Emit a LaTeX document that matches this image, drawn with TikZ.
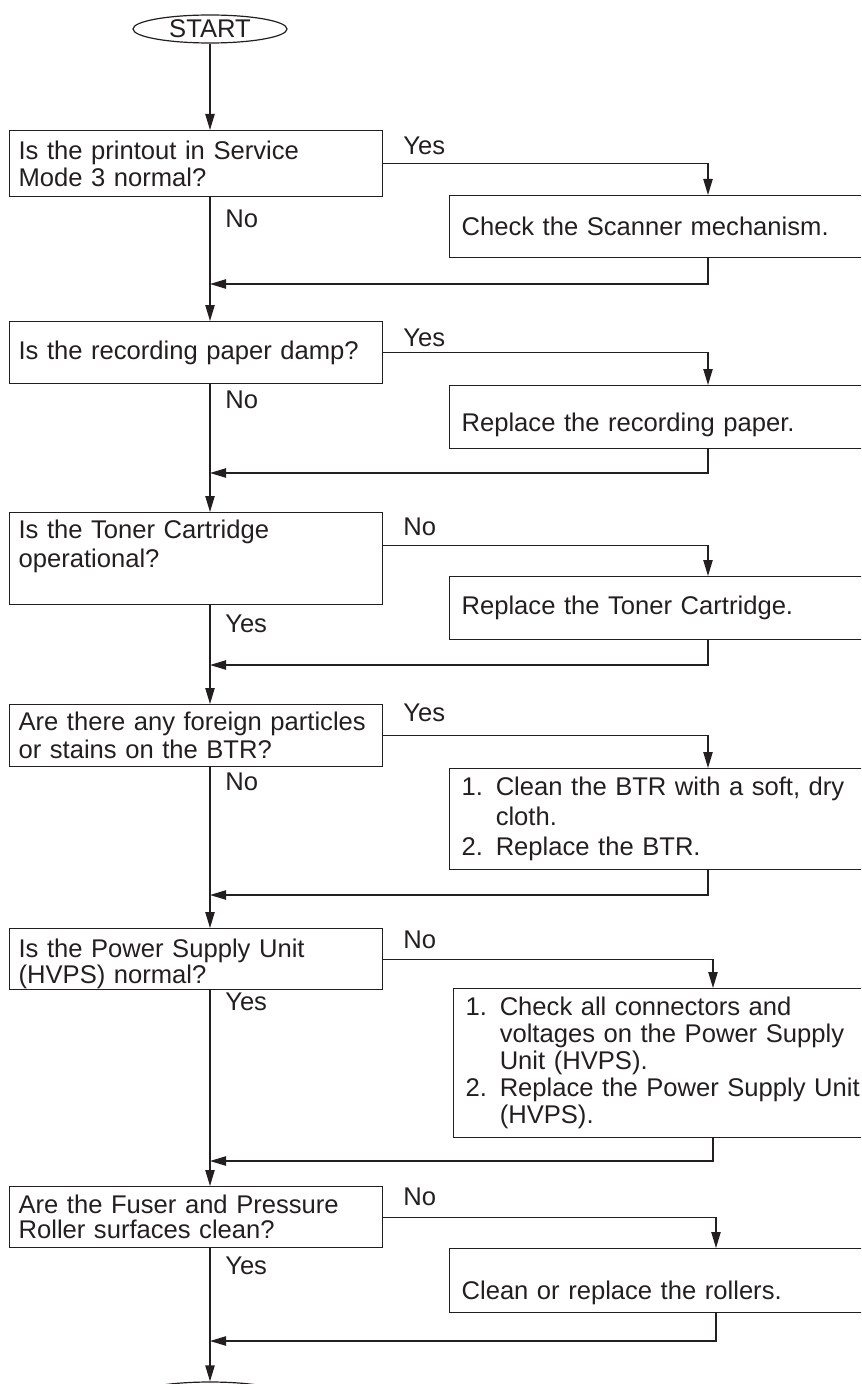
\documentclass[tikz,border=0pt]{standalone}
\usepackage{fontspec}
\setmainfont{Liberation Sans}
\usetikzlibrary{shapes.geometric, arrows.meta, positioning}
\definecolor{ink}{RGB}{35,31,32}
\newcommand{\txtsize}[1]{\fontsize{19.2pt}{#1}\selectfont\lineskiplimit=-10pt\hyphenpenalty=10000\relax}

\begin{document}
\begin{tikzpicture}[
    x=0.75pt, y=-0.75pt,
    terminal/.style={draw=ink, ellipse, line width=0.9pt, minimum width=115.5pt, minimum height=21pt, inner sep=0pt, text=ink, font=\txtsize{22pt}},
    question/.style={draw=ink, rectangle, line width=0.9pt, anchor=north west, text width=266pt, inner xsep=6.75pt, inner ysep=5pt, align=left, text=ink, font=\txtsize{20.25pt}},
    action/.style={draw=ink, rectangle, line width=0.9pt, anchor=north west, text width=310pt, inner xsep=9pt, inner ysep=5pt, align=left, text=ink, font=\txtsize{20.25pt}},
    answer/.style={anchor=west, inner sep=0pt, text=ink, font=\txtsize{22pt}},
    arrow/.style={-{Triangle[length=12pt, width=7pt]}, draw=ink, line width=0.9pt}
]
\useasboundingbox (0,0) rectangle (861,1384);
\clip (0,0) rectangle (861,1384);

% Nodes
\node [terminal] (start) at (210,29) {START};

\node [question, minimum height=49.5pt] (q1) at (9,130) {Is the printout in Service\\Mode 3 normal?};
\node [action, minimum height=46.5pt] (a1) at (449,195) {Check the Scanner mechanism.};

\node [question, minimum height=46.5pt] (q2) at (9,321) {Is the recording paper damp?};
\node [action, minimum height=47.25pt, text height=21pt, text depth=0pt] (a2) at (449,385) {Replace the recording paper.};

\node [question, minimum height=69pt, text depth=44.5pt, font=\txtsize{21.75pt}] (q3) at (9,512) {Is the Toner Cartridge\\operational?};
\node [action, minimum height=47.25pt] (a3) at (449,576) {Replace the Toner Cartridge.};

\node [question, minimum height=46.5pt, font=\txtsize{21pt}] (q4) at (9,704) {Are there any foreign particles\\or stains on the BTR?};
\node [action, minimum height=75.75pt, font=\txtsize{22.5pt}] (a4) at (449,768) {1. Clean the BTR with a soft, dry\\\hphantom{1. }cloth.\\2. Replace the BTR.};

\node [question, minimum height=45.75pt, inner ysep=0pt, text height=21pt, font=\txtsize{19.5pt}] (q5) at (9,928) {Is the Power Supply Unit\\(HVPS) normal?};
\node [action, minimum height=111.75pt] (a5) at (453,988) {1. Check all connectors and\\\hphantom{1. }voltages on the Power Supply\\\hphantom{1. }Unit (HVPS).\\2. Replace the Power Supply Unit\\\hphantom{2. }(HVPS).};

\node [question, minimum height=45.75pt, font=\txtsize{19pt}] (q6) at (9,1186) {Are the Fuser and Pressure\\Roller surfaces clean?};
\node [action, minimum height=48pt, text height=29pt, text depth=0pt] (a6) at (449,1248) {Clean or replace the rollers.};

\node [terminal] (finish) at (210,1396) {};

% Answers
\node [answer] (y1) at (403,146) {Yes};
\node [answer] (n1) at (225,219) {No};
\node [answer] (y2) at (403,338) {Yes};
\node [answer] (n2) at (225,400) {No};
\node [answer] (n3) at (403,527) {No};
\node [answer] (y3) at (225,624) {Yes};
\node [answer] (y4) at (403,713) {Yes};
\node [answer] (n4) at (225,782) {No};
\node [answer] (n5) at (403,940) {No};
\node [answer] (y5) at (225,1002) {Yes};
\node [answer] (n6) at (403,1197) {No};
\node [answer] (y6) at (225,1266) {Yes};

% Columns and joins
\coordinate (col1) at (708,0);
\coordinate (col2) at (713,0);
\coordinate (col3) at (716,0);
\coordinate (r1) at (210,284);
\coordinate (r2) at (210,473);
\coordinate (r3) at (210,665);
\coordinate (r4) at (210,895);
\coordinate (r5) at (210,1161);
\coordinate (r6) at (210,1341);

% Arrows
\draw [arrow] (start) -- (start |- q1.north);
\draw [arrow] (start |- q1.south) -- (start |- q2.north);
\draw [arrow] (start |- q2.south) -- (start |- q3.north);
\draw [arrow] (start |- q3.south) -- (start |- q4.north);
\draw [arrow] (start |- q4.south) -- (start |- q5.north);
\draw [arrow] (start |- q5.south) -- (start |- q6.north);
\draw [arrow] (start |- q6.south) -- (finish);

\draw [arrow] (q1.east) -| (a1.north -| col1);
\draw [arrow] (a1.south -| col1) |- (r1);
\draw [arrow] (q2.east) -| (a2.north -| col1);
\draw [arrow] (a2.south -| col1) |- (r2);
\draw [arrow] ([yshift=9.75pt]q3.east) -| (a3.north -| col1);
\draw [arrow] (a3.south -| col1) |- (r3);
\draw [arrow] (q4.east) -| (a4.north -| col1);
\draw [arrow] (a4.south -| col1) |- (r4);
\draw [arrow] (q5.east) -| (a5.north -| col2);
\draw [arrow] (a5.south -| col2) |- (r5);
\draw [arrow] (q6.east) -| (a6.north -| col3);
\draw [arrow] (a6.south -| col3) |- (r6);

\end{tikzpicture}
\end{document}
